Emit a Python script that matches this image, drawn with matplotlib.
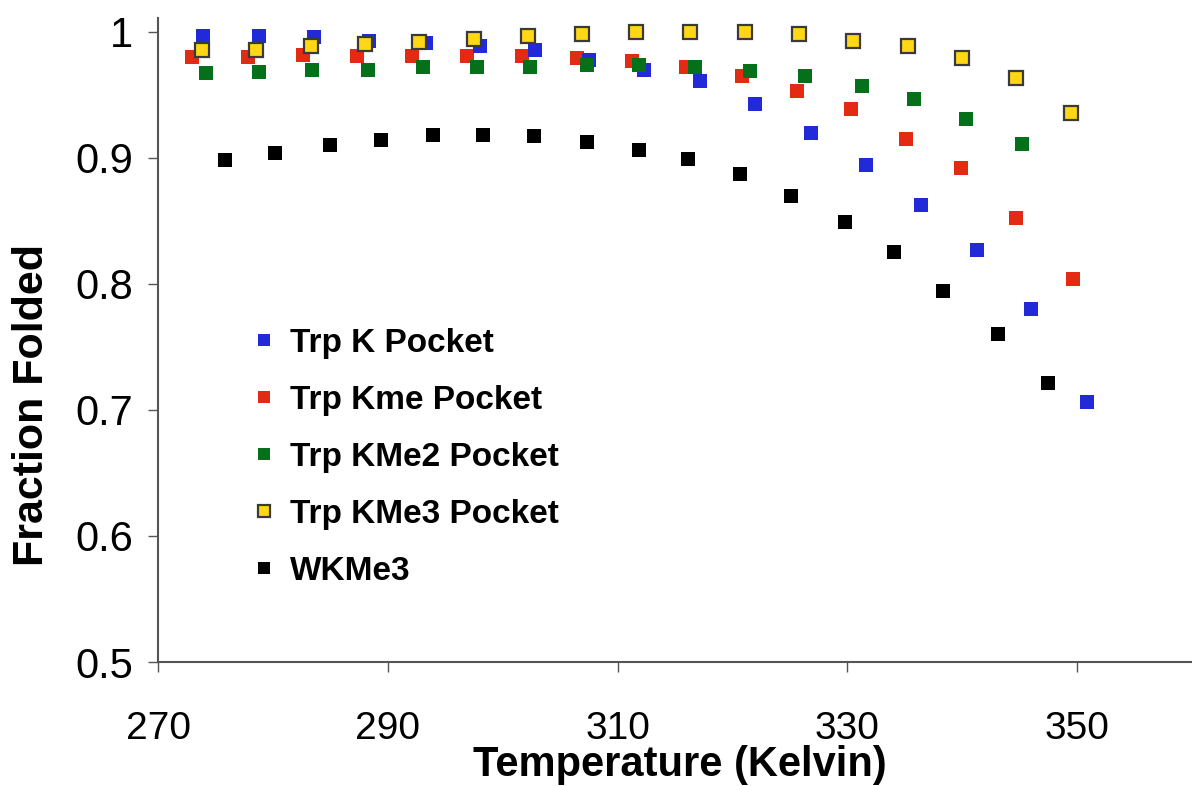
import matplotlib.pyplot as plt

plt.rcParams['font.family'] = ['Liberation Sans', 'DejaVu Sans']

# temperatures (K) and fraction folded
temp_k = [273.9, 278.8, 283.6, 288.4, 293.3, 298.0, 302.8, 307.5, 312.3,
          317.2, 322.0, 326.8, 331.6, 336.4, 341.3, 346.0, 350.9]
frac_k = [0.997, 0.997, 0.996, 0.993, 0.991, 0.989, 0.986, 0.978, 0.970,
          0.961, 0.943, 0.920, 0.894, 0.863, 0.827, 0.780, 0.706]

temp_kme = [273.0, 277.8, 282.6, 287.3, 292.1, 296.9, 301.7, 306.5, 311.3,
            316.0, 320.8, 325.6, 330.3, 335.1, 339.9, 344.7, 349.6]
frac_kme = [0.980, 0.980, 0.982, 0.981, 0.981, 0.981, 0.981, 0.979, 0.977,
            0.972, 0.965, 0.953, 0.939, 0.915, 0.892, 0.852, 0.804]

temp_kme2 = [274.2, 278.8, 283.4, 288.3, 293.1, 297.8, 302.4, 307.3, 311.9,
             316.7, 321.5, 326.3, 331.3, 335.8, 340.3, 345.2]
frac_kme2 = [0.967, 0.968, 0.970, 0.970, 0.972, 0.972, 0.972, 0.974, 0.974,
             0.972, 0.969, 0.965, 0.957, 0.947, 0.931, 0.911]

temp_kme3 = [273.8, 278.5, 283.3, 288.0, 292.7, 297.5, 302.2, 306.9, 311.6,
             316.3, 321.1, 325.8, 330.5, 335.3, 340.0, 344.7, 349.5]
frac_kme3 = [0.986, 0.986, 0.989, 0.990, 0.992, 0.994, 0.997, 0.998, 1.000,
             1.000, 1.000, 0.998, 0.993, 0.989, 0.979, 0.963, 0.936]

temp_w = [275.8, 280.2, 285.0, 289.4, 293.9, 298.3, 302.7, 307.3, 311.9,
          316.1, 320.7, 325.1, 329.8, 334.1, 338.3, 343.1, 347.5]
frac_w = [0.898, 0.904, 0.910, 0.914, 0.918, 0.918, 0.917, 0.913, 0.906,
          0.899, 0.887, 0.870, 0.849, 0.825, 0.794, 0.760, 0.721]

fig = plt.figure(figsize=(11.92, 7.86), dpi=100)
ax = fig.add_axes([158/1192, 1 - 662/786, 1 - 158/1192, (662 - 18)/786])

ms = 10
hw, = ax.plot(temp_w, frac_w, 's', color='#000000', ms=ms, mew=0, zorder=2)
hr, = ax.plot(temp_kme, frac_kme, 's', color='#e32a12', ms=ms, mew=0, zorder=3)
hb, = ax.plot(temp_k, frac_k, 's', color='#2229d8', ms=ms, mew=0, zorder=4)
hg, = ax.plot(temp_kme2, frac_kme2, 's', color='#05701a', ms=ms, mew=0, zorder=5)
hy, = ax.plot(temp_kme3, frac_kme3, 's', color='#ffd714', ms=ms,
              mec='#3a3a3a', mew=1.6, zorder=6)

ax.set_xlim(270, 360)
ax.set_ylim(0.5, 1.011)
ax.set_xticks([270, 290, 310, 330, 350])
ax.set_yticks([0.5, 0.6, 0.7, 0.8, 0.9, 1.0])
ax.set_yticklabels(['0.5', '0.6', '0.7', '0.8', '0.9', '1'])

for s in ['top', 'right']:
    ax.spines[s].set_visible(False)
for s in ['left', 'bottom']:
    ax.spines[s].set_color('#555555')
    ax.spines[s].set_linewidth(1.5)
ax.tick_params(axis='both', colors='#555555', length=7, width=1,
               labelcolor='black', labelsize=28)
ax.tick_params(axis='x', pad=28)
ax.tick_params(axis='y', pad=11, labelsize=30)

fig.text(680/1192, 1 - 765/786, 'Temperature (Kelvin)', ha='center',
         va='center', fontsize=30, fontweight='bold')
fig.text(32/1192, 1 - 405/786, 'Fraction Folded', ha='center', va='center',
         rotation=90, fontsize=31, fontweight='bold')

ax.legend([hb, hr, hg, hy, hw],
          ['Trp K Pocket', 'Trp Kme Pocket', 'Trp KMe2 Pocket',
           'Trp KMe3 Pocket', 'WKMe3'],
          loc='upper left', bbox_to_anchor=(252/1192, 1 - 328/786),
          bbox_transform=fig.transFigure, frameon=False, borderpad=0,
          borderaxespad=0, handlelength=0.7, handletextpad=0.45,
          labelspacing=0.78, markerscale=0.85,
          prop={'size': 24, 'weight': 'bold'})

fig.savefig('out.png', dpi=100)
